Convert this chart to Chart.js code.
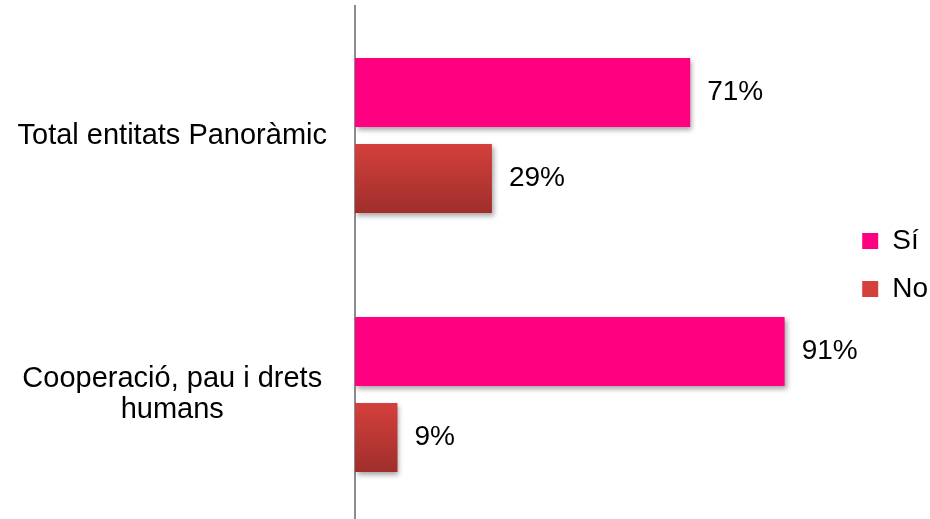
<!DOCTYPE html>
<html>
<head>
<meta charset="utf-8">
<script src="https://cdn.jsdelivr.net/npm/chart.js@4"></script>
<style>
    html, body { margin: 0; padding: 0; background: #fff; overflow: hidden; }
    #wrap { position: relative; width: 930px; height: 524px; }
</style>
</head>
<body>
<div id="wrap"><canvas id="respostaChart"></canvas></div>
<script>
const categories = [
    'Total entitats Panoràmic',
    ['Cooperació, pau i drets', 'humans']
];
const seriesNames = ['Sí', 'No'];
const valuesSi = [71, 91];
const valuesNo = [29, 9];

const pink = '#FF0080';
const redTop = '#D4403C';
const redBottom = '#A02E2B';
const fontFamily = '"Liberation Sans", Arial, sans-serif';

// gradient + shadow on the bars, and the % labels next to them
const barStyle = {
    id: 'barStyle',
    afterLayout(chart) {
        // nudge the legend a bit to the right, closer to the edge
        chart.legend.left += 8;
        chart.legend.right += 8;
    },
    beforeDatasetsDraw(chart) {
        const ctx = chart.ctx;
        const meta = chart.getDatasetMeta(1);
        meta.data.forEach(function (el) {
            const top = el.y - el.height / 2;
            const g = ctx.createLinearGradient(0, top, 0, top + el.height);
            g.addColorStop(0, redTop);
            g.addColorStop(1, redBottom);
            el.options = Object.assign({}, el.options, { backgroundColor: g });
        });
        ctx.save();
        ctx.shadowColor = 'rgba(0,0,0,0.35)';
        ctx.shadowBlur = 5;
        ctx.shadowOffsetX = 2;
        ctx.shadowOffsetY = 3;
    },
    afterDatasetsDraw(chart) {
        const ctx = chart.ctx;
        ctx.restore();
        ctx.save();
        ctx.font = '28px ' + fontFamily;
        ctx.fillStyle = '#000';
        ctx.textAlign = 'left';
        ctx.textBaseline = 'middle';
        chart.data.datasets.forEach(function (ds, i) {
            chart.getDatasetMeta(i).data.forEach(function (el, j) {
                ctx.fillText(ds.data[j] + '%', el.x + 17, el.y);
            });
        });
        ctx.restore();
    }
};

const ctx = document.getElementById('respostaChart').getContext('2d');

new Chart(ctx, {
    type: 'bar',
    data: {
        labels: categories,
        datasets: [{
            label: seriesNames[0],
            data: valuesSi,
            backgroundColor: pink,
        }, {
            label: seriesNames[1],
            data: valuesNo,
            backgroundColor: redTop,
        }]
    },
    options: {
        indexAxis: 'y',
        responsive: true,
        maintainAspectRatio: false,
        animation: false,
        categoryPercentage: 0.664,
        barPercentage: 0.8,
        layout: {
            padding: { top: 6, right: 0, bottom: 0, left: 0 }
        },
        scales: {
            x: {
                display: false,
                min: 0,
                max: 101.5
            },
            y: {
                afterFit: function (scale) {
                    scale.width = 355;
                    scale.paddingTop = 0;
                    scale.paddingBottom = 0;
                },
                grid: { display: false, drawTicks: false },
                border: { display: true, color: '#8C8C8C', width: 2 },
                ticks: {
                    crossAlign: 'center',
                    padding: 28,
                    color: '#000',
                    font: { family: fontFamily, size: 29, lineHeight: 1.1 }
                }
            }
        },
        plugins: {
            legend: {
                position: 'right',
                labels: {
                    boxWidth: 16,
                    boxHeight: 16,
                    padding: 20,
                    color: '#000',
                    font: { family: fontFamily, size: 28 },
                    generateLabels: function (chart) {
                        return chart.data.datasets.map(function (ds, i) {
                            return {
                                text: ds.label,
                                fillStyle: i === 0 ? pink : redTop,
                                strokeStyle: 'rgba(0,0,0,0)',
                                lineWidth: 0,
                                datasetIndex: i
                            };
                        });
                    }
                }
            },
            tooltip: { enabled: false }
        }
    },
    plugins: [barStyle]
});
</script>
</body>
</html>
